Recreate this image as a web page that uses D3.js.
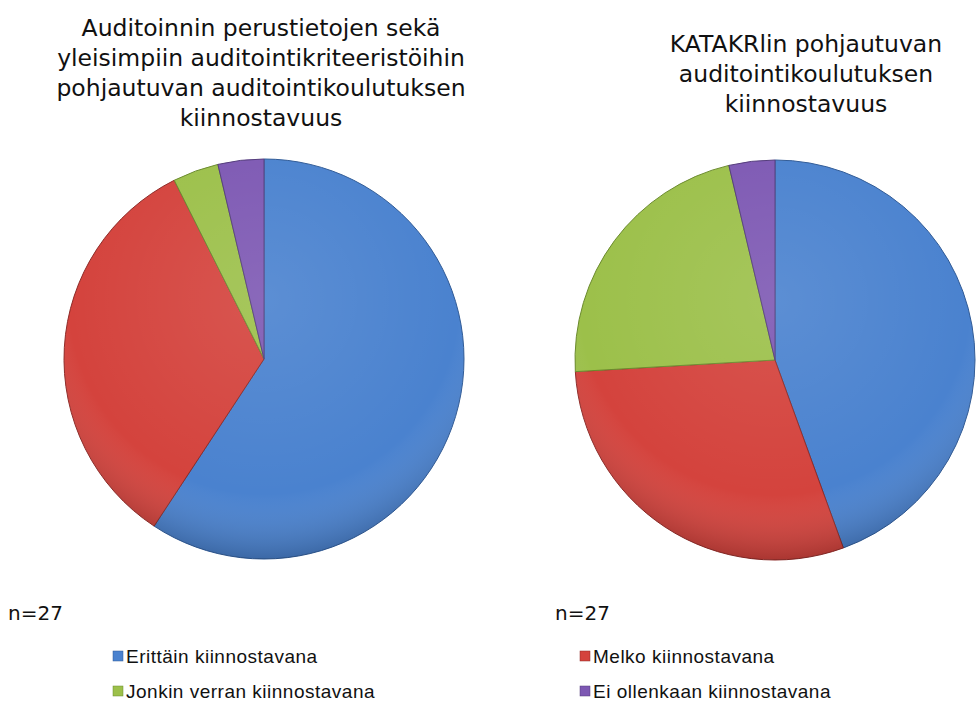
<!DOCTYPE html>
<html>
<head>
<meta charset="utf-8">
<script src="https://cdn.jsdelivr.net/npm/d3@7"></script>
<style>
  body { margin: 0; background: #fff; }
  svg { display: block; }
</style>
</head>
<body>
<svg id="chart"></svg>
<script>
// Categories and values (n=27 each)
const categories = ["Erittäin kiinnostavana", "Melko kiinnostavana", "Jonkin verran kiinnostavana", "Ei ollenkaan kiinnostavana"];
const leftValues = [16, 9, 1, 1];
const rightValues = [12, 8, 6, 1];
const leftTitle = ["Auditoinnin perustietojen sekä", "yleisimpiin auditointikriteeristöihin", "pohjautuvan auditointikoulutuksen", "kiinnostavuus"];
const rightTitle = ["KATAKRlin pohjautuvan", "auditointikoulutuksen", "kiinnostavuus"];
const nLabel = "n=27";

const colors = ["#4a82cf", "#d4433d", "#9cc04a", "#7d58b3"];
const edges = ["#2f5a96", "#8e2a27", "#6a8a2c", "#523a7a"];

const width = 976, height = 726;
const svg = d3.select("#chart").attr("width", width).attr("height", height);

const colorScale = d3.scaleOrdinal().domain(categories).range(colors);
const edgeScale = d3.scaleOrdinal().domain(categories).range(edges);

// shading gradient like the office look
const defs = svg.append("defs");
const shade = defs.append("radialGradient")
    .attr("id", "shade")
    .attr("cx", "50%").attr("cy", "35%").attr("r", "65%");
shade.append("stop").attr("offset", "0%").attr("stop-color", "#fff").attr("stop-opacity", 0.1);
shade.append("stop").attr("offset", "75%").attr("stop-color", "#fff").attr("stop-opacity", 0);
shade.append("stop").attr("offset", "100%").attr("stop-color", "#000").attr("stop-opacity", 0.2);

const pie = d3.pie().sort(null).value(d => d.value);

function drawPie(values, cx, cy, r, titleLines, titleX, titleY0) {
    const data = categories.map((c, i) => ({ key: c, value: values[i] }));
    const arc = d3.arc().innerRadius(0).outerRadius(r);
    const g = svg.append("g").attr("transform", `translate(${cx}, ${cy})`);

    g.selectAll("path")
        .data(pie(data))
        .enter()
        .append("path")
        .attr("d", arc)
        .attr("fill", d => colorScale(d.data.key))
        .attr("stroke", d => edgeScale(d.data.key))
        .attr("stroke-width", 1);

    g.append("circle")
        .attr("r", r)
        .attr("fill", "url(#shade)")
        .attr("pointer-events", "none");

    svg.append("text")
        .attr("x", titleX)
        .attr("y", titleY0)
        .attr("text-anchor", "middle")
        .style("font-family", "DejaVu Sans, sans-serif")
        .style("font-size", "23.5px")
        .attr("fill", "#111")
        .selectAll("tspan")
        .data(titleLines)
        .enter()
        .append("tspan")
        .attr("x", titleX)
        .attr("dy", (d, i) => i === 0 ? 0 : 30)
        .text(d => d);
}

drawPie(leftValues, 264, 359, 200, leftTitle, 261, 36);
drawPie(rightValues, 775, 360, 200, rightTitle, 806, 52);

// n labels
[8, 555].forEach(x => {
    svg.append("text")
        .attr("x", x)
        .attr("y", 620)
        .style("font-family", "DejaVu Sans, sans-serif")
        .style("font-size", "20px")
        .attr("fill", "#111")
        .text(nLabel);
});

// Legend
const legendPos = [[113, 656], [580, 656], [113, 691], [580, 691]];
const legend = svg.selectAll(".legend")
    .data(categories)
    .enter()
    .append("g")
    .attr("class", "legend")
    .attr("transform", (d, i) => `translate(${legendPos[i][0]}, ${legendPos[i][1]})`);

legend.append("rect")
    .attr("x", 0)
    .attr("y", -5)
    .attr("width", 10)
    .attr("height", 10)
    .attr("fill", colorScale)
    .attr("stroke", edgeScale)
    .attr("stroke-width", 0.5);

legend.append("text")
    .attr("x", 13)
    .attr("y", 7)
    .style("font-family", "Liberation Sans, sans-serif")
    .style("font-size", "19px")
    .style("letter-spacing", "0.5px")
    .attr("fill", "#111")
    .text(d => d);
</script>
</body>
</html>
